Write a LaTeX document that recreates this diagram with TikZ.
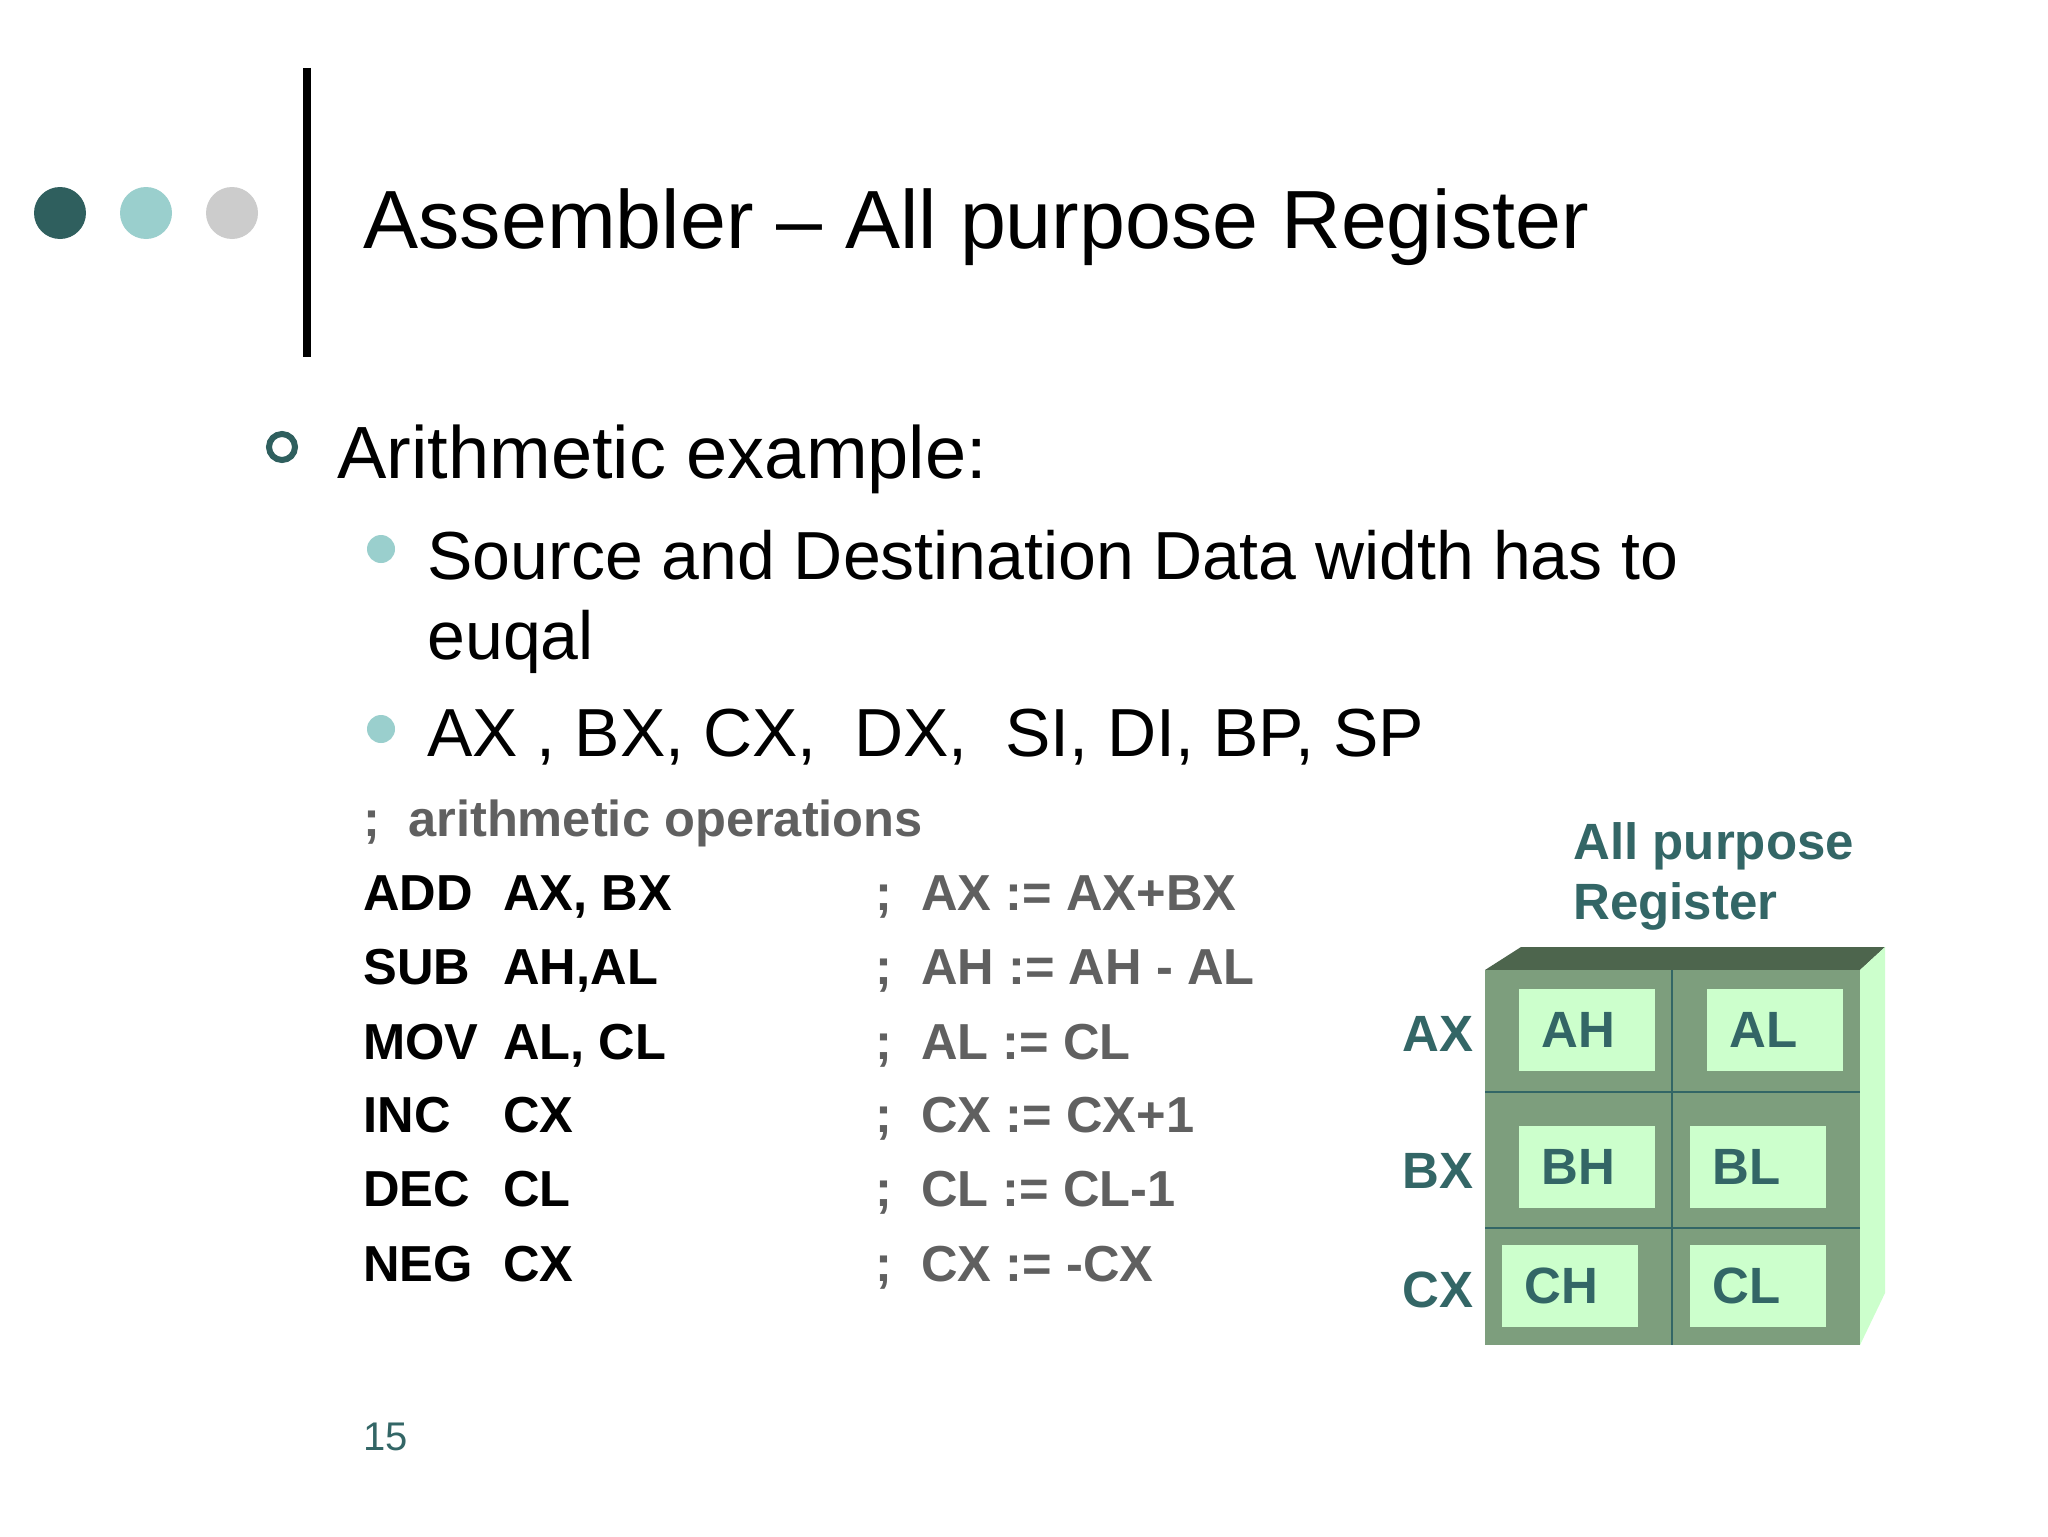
\documentclass[tikz,border=0pt]{standalone}
\usepackage{fontspec}
\setmainfont{Liberation Sans}
\definecolor{teal1}{HTML}{2F5F5E}
\definecolor{teal2}{HTML}{9ACFCD}
\definecolor{grey1}{HTML}{CCCCCC}
\definecolor{txtteal}{HTML}{336666}
\definecolor{cmt}{HTML}{606060}
\definecolor{front}{HTML}{7D9E7D}
\definecolor{topc}{HTML}{4D654D}
\definecolor{light}{HTML}{CCFFCC}
\begin{document}
\begin{tikzpicture}[x=0.5pt,y=-0.5pt,
  txt/.style={anchor=west,inner sep=0pt},
  code/.style={anchor=base west,inner sep=0pt,font=\fontsize{25.3}{28}\selectfont\bfseries},
  cmtxt/.style={code,text=cmt},
  reg/.style={inner sep=0pt,font=\fontsize{25.5}{30}\selectfont\bfseries,text=txtteal}]
\useasboundingbox (0,0) rectangle (2048,1536);
\fill[white] (0,0) rectangle (2048,1536);
% header
\fill[teal1] (60,213) circle (26);
\fill[teal2] (146,213) circle (26);
\fill[grey1] (232,213) circle (26);
\draw[line width=4pt] (307,68) -- (307,357);
\node[txt,font=\fontsize{41.3}{46}\selectfont] (title) at (363,227) {Assembler – All purpose Register};
% bullets
\draw[teal1,line width=3pt] (282,447) circle (13);
\node[txt,font=\fontsize{37}{40}\selectfont] (b1) at (337,459) {Arithmetic example:};
\fill[teal2] (381,549) circle (14);
\fill[teal2] (381,729) circle (14);
\node[txt,font=\fontsize{34}{37}\selectfont] (b2) at (427,555) {Source and Destination Data width has to};
\node[txt,font=\fontsize{34}{37}\selectfont] (b2b) at (427,642) {euqal};
\node[txt,font=\fontsize{34}{37}\selectfont] (b3) at (427,737) {AX , BX, CX,\ \ DX,\ \ SI, DI, BP, SP};
% code
\node[cmtxt] (hd) at (363,836) {;\ \ arithmetic operations};
\foreach \y/\m/\o/\c [count=\i] in {892/ADD/{AX, BX}/{AX := AX+BX},966/SUB/{AH,AL}/{AH := AH - AL},1041/MOV/{AL, CL}/{AL := CL},1114/INC/{CX}/{CX := CX+1},1188/DEC/{CL}/{CL := CL-1},1263/NEG/{CX}/{CX := -CX}}{
  \node[code] (m\i) at (363,\y+18) {\m};
  \node[code] (o\i) at (503,\y+18) {\o};
  \node[cmtxt] (s\i) at (875,\y+18) {;};
  \node[cmtxt] (c\i) at (921,\y+18) {\c};
}
\node[txt,text=txtteal,font=\fontsize{20}{24}\selectfont] (pg) at (363,1437) {15};
% register block
\node[reg,anchor=west] (rt1) at (1573,846) {All purpose};
\node[reg,anchor=west] (rt2) at (1573,906) {Register};
\fill[topc] (1485,970) -- (1521,947) -- (1885,947) -- (1860,970) -- cycle;
\fill[light] (1860,970) -- (1885,947) -- (1885,1293) -- (1860,1345) -- cycle;
\fill[front] (1485,970) rectangle (1860,1345);
\draw[txtteal,line width=1pt] (1672,970) -- (1672,1345) (1485,1092) -- (1860,1092) (1485,1228) -- (1860,1228);
\foreach \n/\a/\b/\c/\d in {AH/1519/989/1655/1071,AL/1707/989/1843/1071,BH/1519/1126/1655/1208,BL/1690/1126/1826/1208,CH/1502/1245/1638/1327,CL/1690/1245/1826/1327}{
  \fill[light] (\a,\b) rectangle (\c,\d);
  \node[reg,anchor=west] (l\n) at ({\a+22},{(\b+\d)/2}) {\n};
}
\node[reg] (ax) at (1438,1034) {AX};
\node[reg] (bx) at (1438,1171) {BX};
\node[reg] (cx) at (1438,1290) {CX};
\end{tikzpicture}
\end{document}
